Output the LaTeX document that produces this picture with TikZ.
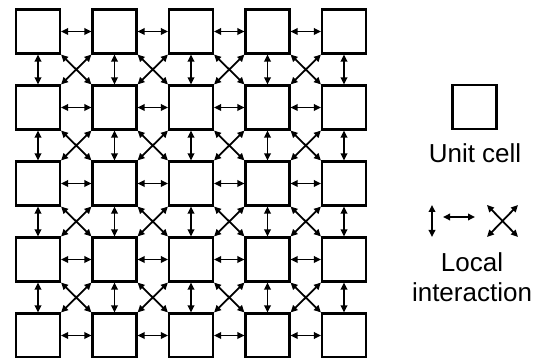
\documentclass[tikz,border=0pt]{standalone}
\usepackage{fontspec}
\setmainfont{Liberation Sans}
\usetikzlibrary{arrows.meta}

\tikzset{
  cell/.style={draw,line width=2.1pt,minimum size=44pt,inner sep=0pt,fill=white},
  link/.style={{Triangle[length=7pt,width=6.5pt]}-{Triangle[length=7pt,width=6.5pt]},line width=1.8pt},
  legend/.style={font=\fontsize{26}{30}\selectfont,align=center}
}

\begin{document}
\begin{tikzpicture}[x=1pt,y=1pt]
\useasboundingbox (0,0) rectangle (537,358);
% grid of unit cells
\foreach \i in {0,...,4}
  \foreach \j in {0,...,4}
    \node[cell] (c-\i-\j) at ({38+76.5*\i},{358-31.5-76*\j}) {};
% horizontal and vertical links
\foreach \i in {0,...,3}
  \foreach \j in {0,...,4} {
    \pgfmathtruncatemacro{\nexti}{\i+1}
    \draw[link] (c-\i-\j.east) -- (c-\nexti-\j.west);
    \draw[link] (c-\j-\i.south) -- (c-\j-\nexti.north);
  }
% diagonal links
\foreach \i in {0,...,3}
  \foreach \j in {0,...,3} {
    \pgfmathtruncatemacro{\nexti}{\i+1}
    \pgfmathtruncatemacro{\nextj}{\j+1}
    \draw[link] (c-\i-\j.south east) -- (c-\nexti-\nextj.north west);
    \draw[link] (c-\nexti-\j.south west) -- (c-\i-\nextj.north east);
  }
% legend
\node[cell] (unit) at (474.5,251) {};
\node[legend] (unitlabel) at (475,205) {Unit cell};
\coordinate (v1) at (432,153); \coordinate (v2) at (432,121);
\coordinate (h1) at (443,141); \coordinate (h2) at (475,141);
\coordinate (d1) at (487,153); \coordinate (d2) at (518,121);
\coordinate (d3) at (518,153); \coordinate (d4) at (487,121);
\draw[link] (v1) -- (v2);
\draw[link] (h1) -- (h2);
\draw[link] (d1) -- (d2);
\draw[link] (d3) -- (d4);
\node[legend] (locallabel) at (472,81) {Local\\interaction};
\end{tikzpicture}
\end{document}
